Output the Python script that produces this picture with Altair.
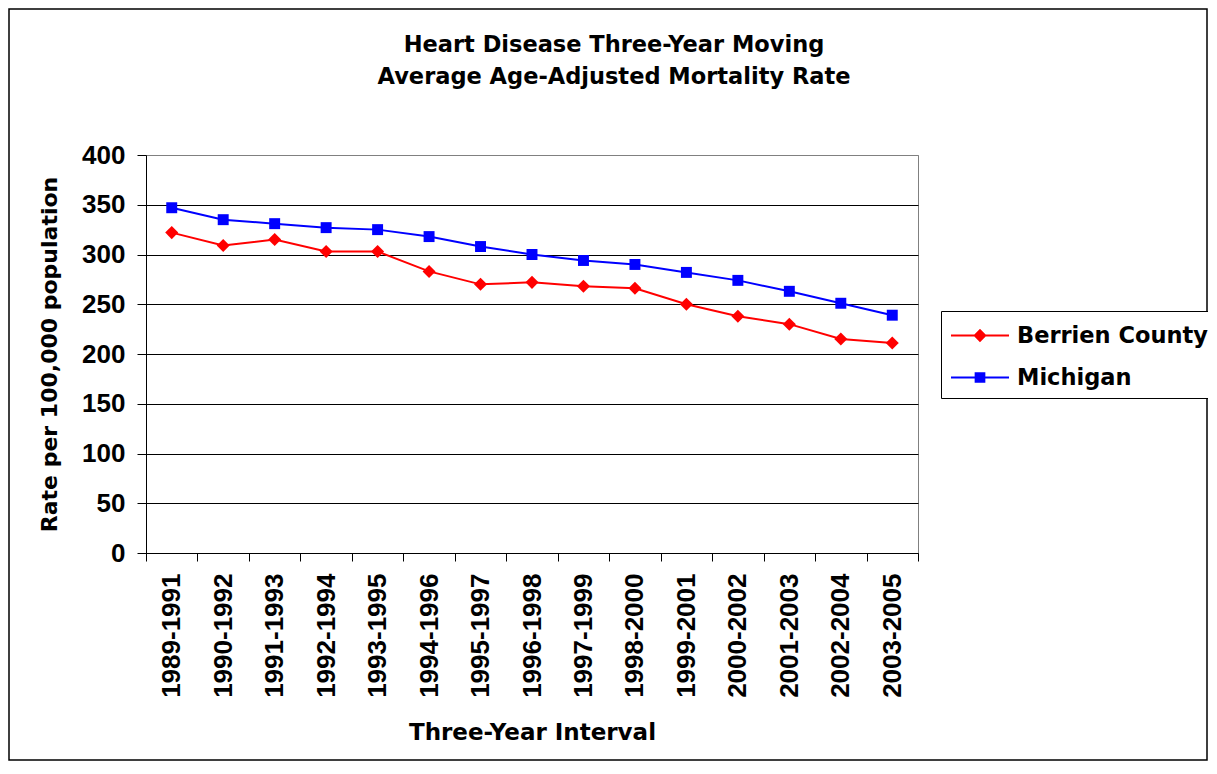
import altair as alt
import pandas as pd

intervals = ["1989-1991", "1990-1992", "1991-1993", "1992-1994", "1993-1995",
             "1994-1996", "1995-1997", "1996-1998", "1997-1999", "1998-2000",
             "1999-2001", "2000-2002", "2001-2003", "2002-2004", "2003-2005"]
berrien = [322, 309, 315, 303, 303, 283, 270, 272, 268, 266, 250, 238, 230, 215, 211]
michigan = [347, 335, 331, 327, 325, 318, 308, 300, 294, 290, 282, 274, 263, 251, 239]
series_names = ["Berrien County", "Michigan"]
series_colors = ["#FF0000", "#0000FF"]
series_shapes = ["diamond", "square"]
y_ticks = [0, 50, 100, 150, 200, 250, 300, 350, 400]

rows = []
for name, vals in zip(series_names, [berrien, michigan]):
    for iv, v in zip(intervals, vals):
        rows.append({"interval": iv, "rate": v, "series": name})
df = pd.DataFrame(rows)

# legend symbols: a line with a (solid, drawn by nested strokes) marker in the middle.
# unit = 14.5 px (symbolSize 841); the line runs from u=-1 to u=3, marker at u=1
legend_paths = [
    "M-1,0H3"
    "M1,-0.36L1.36,0L1,0.36L0.64,0Z"
    "M1,-0.22L1.22,0L1,0.22L0.78,0Z"
    "M1,-0.08L1.08,0L1,0.08L0.92,0Z",
    "M-1,0H3"
    "M0.7,-0.3H1.3V0.3H0.7Z"
    "M0.83,-0.17H1.17V0.17H0.83Z"
    "M0.95,-0.05H1.05V0.05H0.95Z",
]

x_enc = alt.X(
    "interval:O",
    sort=intervals,
    scale=alt.Scale(type="band", paddingInner=0, paddingOuter=0),
    bandPosition=0.5,
    axis=alt.Axis(
        title="Three-Year Interval",
        labelAngle=270,
        tickBand="extent",
        tickSize=8,
        labelPadding=12,
        labelFont="Liberation Sans",
        labelFontWeight="bold",
        labelFontSize=26,
        labelColor="black",
        titleFont="DejaVu Sans",
        titleFontWeight="bold",
        titleFontSize=23,
        titleColor="black",
        titlePadding=24,
        domainColor="black",
        tickColor="black",
        grid=False,
    ),
)
y_enc = alt.Y(
    "rate:Q",
    scale=alt.Scale(domain=[0, 400]),
    axis=alt.Axis(
        title="Rate per 100,000 population",
        values=y_ticks,
        tickSize=9,
        labelPadding=12,
        labelFont="Liberation Sans",
        labelFontWeight="bold",
        labelFontSize=26,
        labelColor="black",
        titleFont="DejaVu Sans",
        titleFontWeight="bold",
        titleFontSize=22,
        titleColor="black",
        titlePadding=20,
        domainColor="black",
        tickColor="black",
        grid=True,
        gridColor={"condition": {"test": "datum.value === 400", "value": "#808080"}, "value": "black"},
        gridWidth=1,
    ),
)

base = alt.Chart(df)
layers = []
for name, color, shape, size in zip(series_names, series_colors, series_shapes, [170, 120]):
    sub = base.transform_filter(alt.datum.series == name)
    layers.append(sub.mark_line(color=color, strokeWidth=2).encode(x=x_enc, y=y_enc))
    layers.append(sub.mark_point(color=color, shape=shape, filled=True, opacity=1, size=size)
                  .encode(x=x_enc, y=y_enc))

legend_layer = base.mark_point(filled=False, opacity=0).encode(
    x=x_enc,
    y=y_enc,
    color=alt.Color("series:N", scale=alt.Scale(domain=series_names, range=series_colors),
                    legend=alt.Legend(title=None)),
    shape=alt.Shape("series:N", scale=alt.Scale(domain=series_names, range=legend_paths),
                    legend=alt.Legend(title=None)),
)

frame = alt.Chart(pd.DataFrame({"a": [0]})).mark_rect(
    filled=False, stroke="black", strokeWidth=1.5, clip=False
).encode(x=alt.value(-137), x2=alt.value(1061), y=alt.value(-146), y2=alt.value(605))

chart = alt.layer(frame, *layers, legend_layer).properties(
    width=772,
    height=398,
    autosize=alt.AutoSizeParams(type="none"),
    padding={"left": 138, "top": 147, "right": 290, "bottom": 208},
    title=alt.Title(
        ["Heart Disease Three-Year Moving", "Average Age-Adjusted Mortality Rate"],
        font="DejaVu Sans",
        fontSize=22.5,
        fontWeight="bold",
        color="black",
        anchor="middle",
        frame="group",
        dx=82,
        offset=-80,
        lineHeight=32,
    ),
).configure_view(stroke="#808080", strokeWidth=1).configure_legend(
    orient="none",
    legendX=795,
    legendY=156,
    strokeColor="black",
    fillColor="white",
    padding=9,
    symbolSize=841,
    symbolStrokeWidth=2,
    labelFont="DejaVu Sans",
    labelFontWeight="bold",
    labelFontSize=22.5,
    labelColor="black",
    labelOffset=36,
    labelLimit=400,
    rowPadding=15,
).configure_axis(labelFlush=False)

chart.save("out.html", embed_options={"renderer": "svg", "actions": False})
